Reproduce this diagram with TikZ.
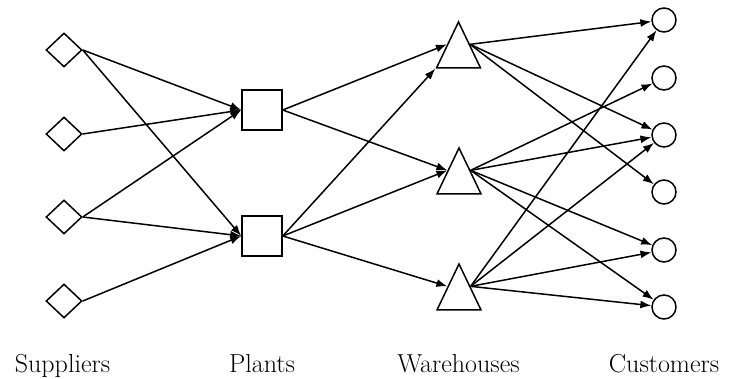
\documentclass[tikz,border=0pt]{standalone}
\usetikzlibrary{shapes.geometric,arrows.meta}
\begin{document}
\begin{tikzpicture}[x=1pt,y=-1pt,line width=1.5pt,
  supplier/.style={diamond,draw,inner sep=0pt,minimum width=36pt,minimum height=34pt},
  plant/.style={rectangle,draw,inner sep=0pt,minimum width=40pt,minimum height=40pt},
  warehouse/.style={isosceles triangle,isosceles triangle stretches,shape border rotate=90,draw,inner sep=0pt,minimum width=44pt,minimum height=46pt,anchor=apex},
  customer/.style={circle,draw,inner sep=0pt,minimum size=24pt},
  lbl/.style={font=\fontsize{26}{30}\selectfont,anchor=base,inner sep=0pt},
  flow/.style={-{Latex[length=11pt,width=8pt]}}]
\useasboundingbox (0,0) rectangle (730,379);
% suppliers
\node[supplier] (S1) at (64,50) {};
\node[supplier] (S2) at (64,134) {};
\node[supplier] (S3) at (64,217) {};
\node[supplier] (S4) at (64,301) {};
% plants
\node[plant] (P1) at (262,110) {};
\node[plant] (P2) at (262,236) {};
% warehouses
\node[warehouse] (W1) at (458.5,20) {};
\node[warehouse] (W2) at (459,146) {};
\node[warehouse] (W3) at (459,262) {};
% customers
\node[customer] (C1) at (664,20) {};
\node[customer] (C2) at (664,78) {};
\node[customer] (C3) at (664,135) {};
\node[customer] (C4) at (664,192) {};
\node[customer] (C5) at (664,250) {};
\node[customer] (C6) at (664,307) {};
% labels
\node[lbl] (L1) at (62.5,372) {Suppliers};
\node[lbl] (L2) at (262,372) {Plants};
\node[lbl] (L3) at (458.5,372) {Warehouses};
\node[lbl] (L4) at (664,372) {Customers};
% supplier -> plant
\draw[flow] (S1.east) -- (P1.west);
\draw[flow] (S1.east) -- (P2.west);
\draw[flow] (S2.east) -- (P1.west);
\draw[flow] (S3.east) -- (P1.west);
\draw[flow] (S3.east) -- (P2.west);
\draw[flow] (S4.east) -- (P2.west);
% plant -> warehouse
\draw[flow] (P1.east) -- (W1.left side);
\draw[flow] (P1.east) -- (W2.left side);
\draw[flow] (P2.east) -- (W1.left corner);
\draw[flow] (P2.east) -- (W2.left side);
\draw[flow] (P2.east) -- (W3.left side);
% warehouse -> customer
\draw[flow] (W1.right side) -- (C1);
\draw[flow] (W1.right side) -- (C3);
\draw[flow] (W1.right side) -- (C4);
\draw[flow] (W2.right side) -- (C2);
\draw[flow] (W2.right side) -- (C3);
\draw[flow] (W2.right side) -- (C5);
\draw[flow] (W2.right side) -- (C6);
\draw[flow] (W3.right side) -- (C1);
\draw[flow] (W3.right side) -- (C3);
\draw[flow] (W3.right side) -- (C5);
\draw[flow] (W3.right side) -- (C6);
\end{tikzpicture}
\end{document}
